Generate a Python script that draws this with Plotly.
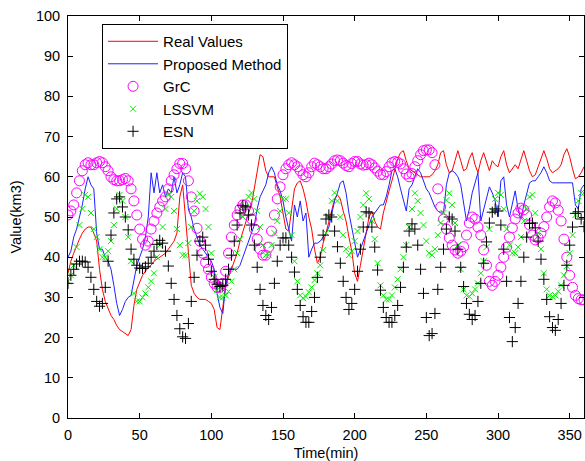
import plotly.graph_objects as go

time_min = list(range(0, 361, 2))

real_values = [
    36, 39, 41, 43, 44.5, 46, 47, 47.5, 47.5, 46,
    44, 37, 32, 29, 27, 25.5, 24.5, 23, 22, 21.5,
    21, 20.5, 22, 28, 32, 34, 35.5, 36.5, 37.5, 38,
    39, 39.5, 40, 40.5, 41, 42, 43, 44, 46, 55,
    58, 50, 40, 33, 31, 30, 29.5, 29.5, 29.5, 29,
    28.5, 27, 22.5, 22, 27, 33, 35, 37, 39, 41,
    44, 46.5, 49, 51, 53, 57, 61, 65.5, 65, 61.5,
    60, 60, 60, 57.5, 55, 51, 47, 46.5, 52, 57,
    58.5, 59, 57, 54, 50, 47, 42, 38.5, 40, 43.5,
    46, 49, 52, 54.5, 55.5, 54.5, 51.5, 49, 45, 41.5,
    36, 34, 38, 42, 47, 50, 51.5, 49, 47.5, 47,
    51, 54, 56.5, 59, 62, 64.5, 66, 66.5, 64, 62,
    61.5, 61, 60.5, 60, 60, 60, 60, 60.5, 61.5, 63,
    66, 66.5, 63, 61, 61.5, 64, 66.5, 64, 61.5, 62,
    64.5, 66, 63, 61, 64, 66, 63.5, 61.5, 64, 63,
    62.5, 65, 66.5, 63, 61, 62, 63, 62, 64.5, 66.5,
    64, 61.5, 60, 60.5, 62.5, 64.5, 66.5, 64.5, 62, 61,
    61.5, 62, 63, 65.5, 67, 65, 62, 59.5, 60, 61,
    62.5,
]

proposed_method = [
    40, 41.5, 45, 47, 50, 53, 57, 60, 58, 57,
    46, 42, 42, 40, 39, 37, 33, 28.5, 25.5, 27,
    29, 30, 30.5, 34, 38, 40, 42, 45, 50, 61,
    56, 61, 56, 58, 55, 57, 56, 60, 56, 58,
    61, 60, 52, 50, 47, 45, 43, 42, 41, 40,
    39, 37, 31, 27.5, 26, 33, 36, 37.5, 37, 37,
    38, 40, 42, 44, 45.5, 48, 52, 55, 56.5, 58,
    61, 62.5, 61, 58, 56.5, 54, 50, 47, 44, 53,
    50, 54, 49, 51, 40, 42, 43.5, 43.5, 44, 45,
    46, 47.5, 51, 54, 56, 58.5, 59, 56, 51, 47,
    43, 40, 42, 44, 46, 48, 50, 51, 52, 53,
    53, 55, 58, 61.5, 62, 60, 57, 54, 51.5, 57,
    58, 60, 62, 61, 59, 57, 56, 54, 52.5, 51.5,
    51, 51, 58, 61, 61.5, 61, 60, 58, 54, 49,
    52, 56, 58.5, 61, 49, 52, 55, 57.5, 56, 54,
    50, 59, 60, 53, 50, 53, 56.5, 52, 49.5, 53,
    56, 58.5, 59, 59, 60, 61, 62.5, 61, 59, 58.5,
    58.5, 58.5, 58.5, 58.5, 58.5, 58.5, 58.5, 53, 52, 57,
    58,
]

grc = [
    50.5, 51.5, 53, 56, 59, 61.5, 63, 63.5, 63, 63,
    63.5, 63.8, 63.5, 62.5, 61.5, 60, 59.3, 59, 59, 59.3,
    59.6, 59, 57, 54, 50.5, 47, 44.5, 43, 44, 47,
    49, 51, 52.5, 54, 55, 57, 59, 60.5, 62, 63.3,
    63.3, 62, 59, 55, 51.5, 47.2, 44, 41, 38.7, 37,
    35, 33.5, 32.5, 32.5, 33.5, 36.5, 41, 45, 48, 50.5,
    52, 53, 53, 51.5, 49.5, 47, 44.5, 42, 40.5, 40.5,
    42.5, 46.5, 50.5, 54.5, 57.5, 60.5, 62, 63, 63.5, 63,
    62.5, 61.5, 60.5, 60, 61, 62.5, 63.4, 63, 62.5, 62,
    62, 62.5, 63.2, 64, 64.2, 64, 63.4, 62.8, 62.5, 63.3,
    63.8, 63.8, 63.2, 62.9, 63, 63.4, 63, 62.2, 61.4, 60.6,
    60.5, 61.3, 62.5, 63.5, 63.8, 63.6, 63.2, 62, 60.7, 60,
    60.8, 62.5, 64, 65.5, 66.5, 66.7, 66.7, 66, 63, 57,
    52.5, 49.5, 47, 44.8, 43, 41.8, 41, 41.5, 42.6, 45.5,
    48.5, 50, 49.5, 47.5, 45.5, 41.8, 38, 34, 33, 34,
    35.5, 37.5, 40, 42.5, 45, 47.3, 49.5, 51, 52.2, 51.8,
    50.5, 48, 45.5, 44.3, 44.8, 46, 47.6, 50, 52.5, 54,
    53.5, 51.7, 49, 44.5, 40, 35.5, 32.5, 30.5, 29.7, 29.4,
    29.4,
]

lssvm = [
    34, 35.5, 38, 42.5, 48, 52, 55.5, 55, 51, 47,
    45, 42, 40, 40, 41.5, 44, 48, 52, 55.5, 54,
    50, 45, 39, 31, 29, 29, 30, 31, 32.5, 34,
    36, 40, 43, 47.5, 52, 55.5, 55, 51.5, 47, 43,
    40.5, 40.5, 43.5, 47.5, 51.5, 54, 55.8, 55, 52, 47.5,
    41, 35, 31.8, 30, 30, 30.5, 31.5, 34, 37, 41,
    44.5, 50, 52.5, 55, 56, 54.5, 51.5, 47.5, 43, 40.5,
    40.5, 43, 46, 49, 51.5, 54.5, 54.5, 51, 45.5, 39,
    34, 30.5, 29.8, 30.2, 31.3, 32.5, 34.3, 36, 38, 41.8,
    46, 50, 54, 56, 54, 50, 45.5, 42, 40.5, 41.5,
    44, 46.5, 50, 53, 55.9, 54.5, 49, 44.5, 38.5, 33,
    30.5, 29.5, 29.5, 30.5, 32.5, 34.5, 37, 40, 43, 47.5,
    52, 55.9, 54, 51, 48, 44, 41, 40.5, 42, 45.5,
    48.5, 51, 54.2, 55.9, 53, 48.5, 43, 37, 32, 30.5,
    30.2, 31, 32, 33.5, 36, 39, 42.5, 47, 51.5, 54.5,
    56, 55.5, 52, 47, 43, 41, 41, 42.5, 45, 49,
    52, 55, 55.5, 51, 46, 42, 36, 32, 30.5, 30.2,
    30.5, 31.5, 33, 35.5, 37.8, 41, 45.5, 50.5, 54, 56,
    56,
]

esn = [
    33.5, 35.5, 37, 38.3, 39, 39, 38.8, 37.5, 35, 32,
    29, 27.8, 28.5, 32.5, 39, 45.5, 51, 54.5, 55, 52.5,
    50, 46.8, 42, 39.5, 38, 37.3, 37.2, 37.6, 38.5, 40,
    41.5, 43.2, 44.2, 43.5, 41.5, 37.8, 33.5, 29.5, 25.5, 22.2,
    20.2, 19.8, 23.5, 29, 35, 40.5, 44, 45, 43, 39.5,
    36.5, 34.5, 33.3, 32.7, 33, 34.5, 37, 40.5, 44, 48,
    51, 52.8, 52.5, 50.5, 48, 43, 37.5, 32, 28, 25.5,
    24.5, 27.5, 33.5, 39, 43, 44.8, 44.8, 43, 40, 36.3,
    32, 28, 25.2, 23.8, 23.8, 26.5, 30, 35, 40, 45.5,
    49.5, 50.5, 50, 46.5, 42.6, 38.5, 34, 30, 27, 28.5,
    32, 36.5, 42, 47.5, 51.3, 51, 47.5, 42.5, 36.8, 31.8,
    27.5, 25, 23.8, 23.8, 25.5, 28, 32.5, 37.5, 42.5, 46.5,
    48.3, 47, 43, 37, 31, 25, 20.5, 21, 26, 32,
    37.5, 42, 47, 50, 49.5, 46.5, 42, 37.5, 32.7, 28.5,
    25.8, 24.5, 25.5, 29, 33.5, 38.5, 43.8, 48.5, 51.2, 52,
    51.5, 48, 42, 34, 25, 19, 22.5, 28.5, 34, 40,
    45, 48.4, 48.5, 47.3, 44, 39.5, 34.5, 29.5, 25.2, 22.5,
    21.8, 24.5, 28.5, 33, 38, 43, 47.5, 50.9, 51.3, 49.5,
    47.6,
]

x_ticks = [0, 50, 100, 150, 200, 250, 300, 350]
y_ticks = [0, 10, 20, 30, 40, 50, 60, 70, 80, 90, 100]

FONT = "Liberation Sans, Arial, Helvetica, sans-serif"
FS = 14.5

fig = go.Figure()
fig.add_trace(go.Scatter(x=time_min, y=real_values, mode="lines", name="Real Values",
                         line=dict(color="#ff0000", width=1)))
fig.add_trace(go.Scatter(x=time_min, y=proposed_method, mode="lines", name="Proposed Method",
                         line=dict(color="#2020ff", width=1)))
fig.add_trace(go.Scatter(x=time_min, y=grc, mode="markers", name="GrC",
                         marker=dict(symbol="circle-open", size=10, color="#ff00ff",
                                     line=dict(width=1, color="#ff00ff"))))
fig.add_trace(go.Scatter(x=time_min, y=lssvm, mode="markers", name="LSSVM",
                         marker=dict(symbol="x-thin-open", size=6, color="#00ee00",
                                     line=dict(width=1, color="#00ee00"))))
fig.add_trace(go.Scatter(x=time_min, y=esn, mode="markers", name="ESN",
                         marker=dict(symbol="cross-thin-open", size=8, color="#000000",
                                     line=dict(width=1, color="#000000"))))

axis_common = dict(showline=True, linecolor="black", linewidth=1, mirror="ticks",
                   ticks="inside", ticklen=5, tickcolor="black", showgrid=False,
                   zeroline=False, tickfont=dict(family=FONT, size=FS, color="black"))

fig.update_xaxes(range=[0, 360], tickvals=x_ticks, ticklabelstandoff=4,
                 title=dict(text="Time(min)", font=dict(family=FONT, size=FS, color="black"), standoff=6),
                 **axis_common)
fig.update_yaxes(range=[0, 100], tickvals=y_ticks, ticklabelstandoff=4,
                 title=dict(text="Value(km3)", font=dict(family=FONT, size=FS, color="black"), standoff=10),
                 **axis_common)

fig.update_layout(
    width=585, height=461,
    margin=dict(l=68, r=1, t=16, b=43),
    paper_bgcolor="white", plot_bgcolor="white",
    font=dict(family=FONT, size=FS, color="black"),
    legend=dict(x=0.066, y=0.98, xanchor="left", yanchor="top",
                bgcolor="white", bordercolor="black", borderwidth=1,
                font=dict(family=FONT, size=15, color="black"),
                itemwidth=50),
)

fig.write_html("out.html", config={"displayModeBar": False},
               post_script="document.body.style.margin='0';document.body.style.padding='0';")
